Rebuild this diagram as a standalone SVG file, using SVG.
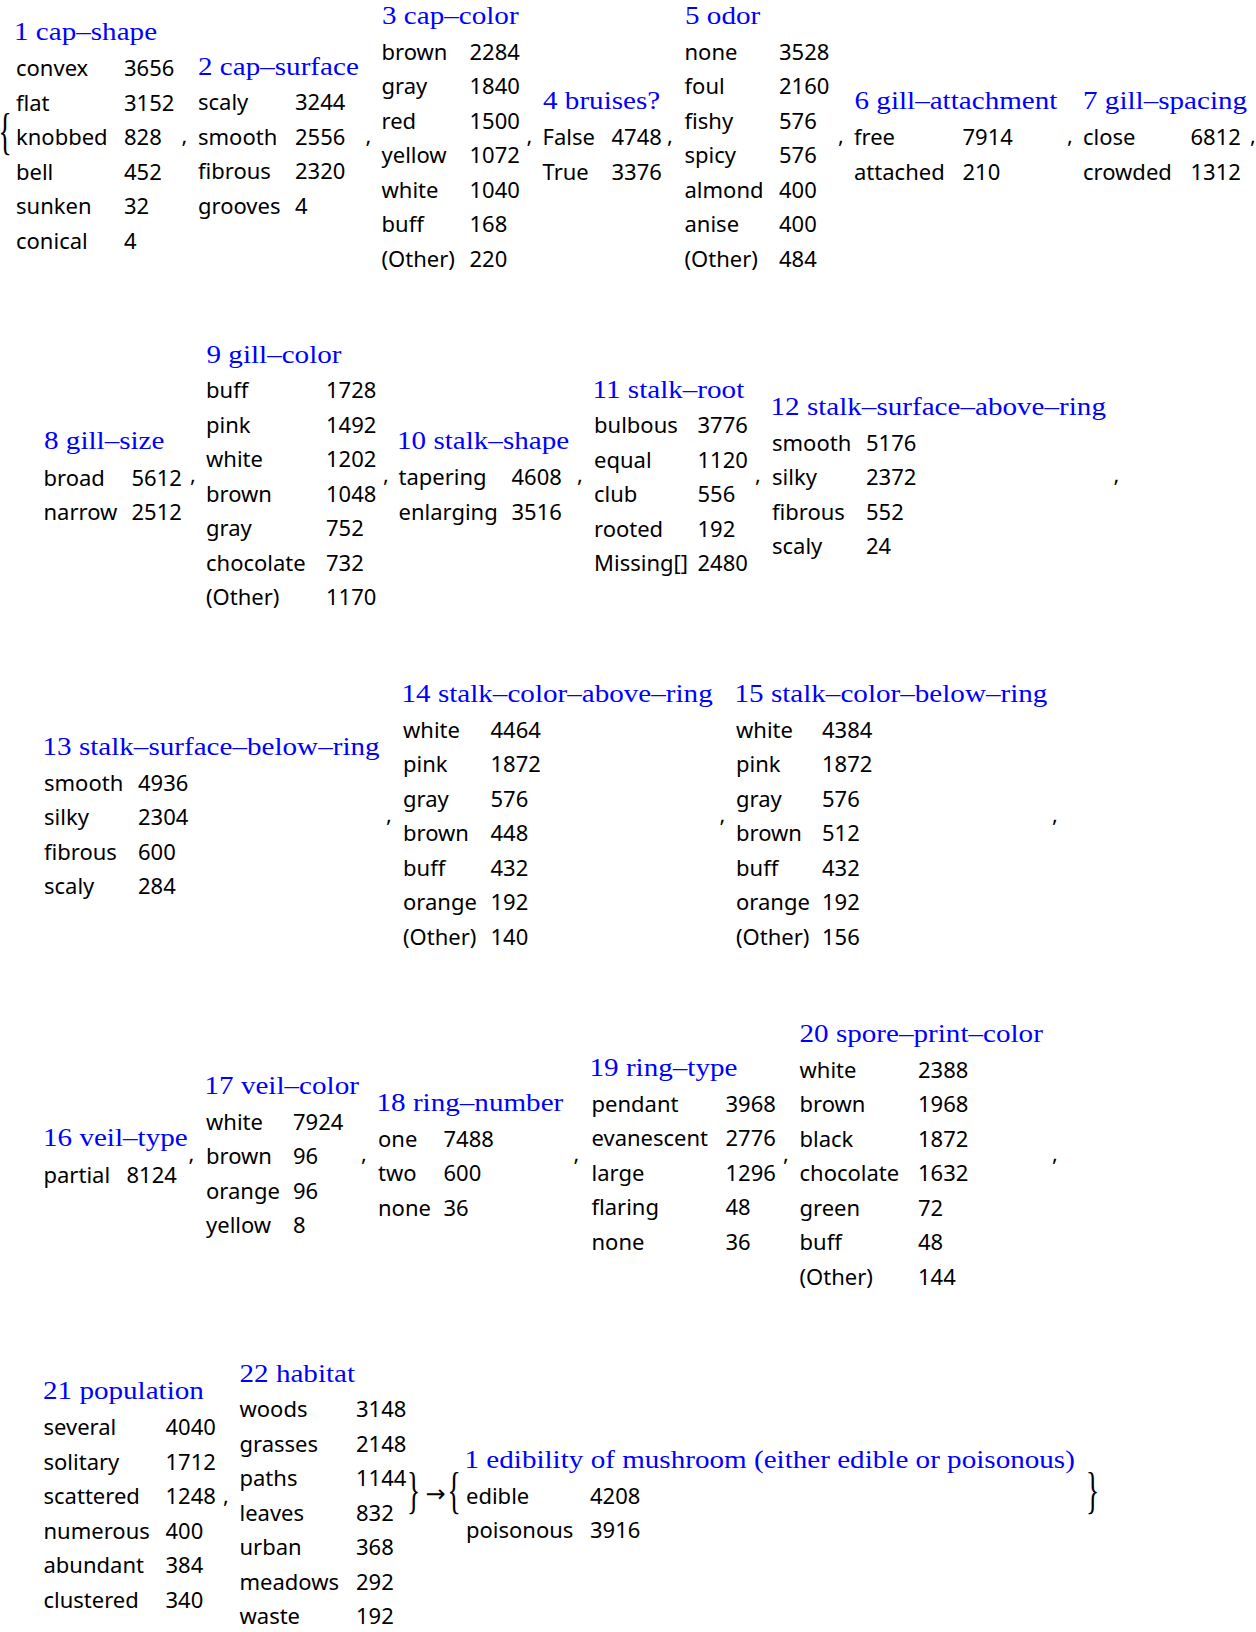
<svg xmlns="http://www.w3.org/2000/svg" width="1256" height="1632" viewBox="0 0 1256 1632">
<style>
.h{font-family:"Liberation Serif","Times New Roman",serif;font-size:26px;fill:#0000ff}
.t{font-family:"Noto Sans","Open Sans",sans-serif;font-size:22px;fill:#000}
.s{font-family:"Noto Sans","Open Sans",sans-serif;font-size:22px;fill:#000}
.br{font-family:"Liberation Serif","Times New Roman",serif;font-size:50px;fill:#000}
.ar{font-family:"DejaVu Sans",sans-serif;font-size:24px;fill:#000}
</style>
<rect width="1256" height="1632" fill="#fff"/>

<g id="n1">
<text class="h" transform="translate(14 40) scale(1.12 1)">1 cap–shape</text>
<text class="t" x="16" y="76">convex</text><text class="t" x="124" y="76">3656</text>
<text class="t" x="16" y="110.5">flat</text><text class="t" x="124" y="110.5">3152</text>
<text class="t" x="16" y="145">knobbed</text><text class="t" x="124" y="145">828</text>
<text class="t" x="16" y="179.5">bell</text><text class="t" x="124" y="179.5">452</text>
<text class="t" x="16" y="214">sunken</text><text class="t" x="124" y="214">32</text>
<text class="t" x="16" y="248.5">conical</text><text class="t" x="124" y="248.5">4</text>
</g>
<g id="n2">
<text class="h" transform="translate(198 74.5) scale(1.12 1)">2 cap–surface</text>
<text class="t" x="198" y="110">scaly</text><text class="t" x="295" y="110">3244</text>
<text class="t" x="198" y="144.5">smooth</text><text class="t" x="295" y="144.5">2556</text>
<text class="t" x="198" y="179">fibrous</text><text class="t" x="295" y="179">2320</text>
<text class="t" x="198" y="213.5">grooves</text><text class="t" x="295" y="213.5">4</text>
</g>
<g id="n3">
<text class="h" transform="translate(382 24) scale(1.12 1)">3 cap–color</text>
<text class="t" x="381.5" y="59.5">brown</text><text class="t" x="469.5" y="59.5">2284</text>
<text class="t" x="381.5" y="94">gray</text><text class="t" x="469.5" y="94">1840</text>
<text class="t" x="381.5" y="128.5">red</text><text class="t" x="469.5" y="128.5">1500</text>
<text class="t" x="381.5" y="163">yellow</text><text class="t" x="469.5" y="163">1072</text>
<text class="t" x="381.5" y="197.5">white</text><text class="t" x="469.5" y="197.5">1040</text>
<text class="t" x="381.5" y="232">buff</text><text class="t" x="469.5" y="232">168</text>
<text class="t" x="381.5" y="266.5">(Other)</text><text class="t" x="469.5" y="266.5">220</text>
</g>
<g id="n4">
<text class="h" transform="translate(543 109) scale(1.12 1)">4 bruises?</text>
<text class="t" x="542.5" y="145">False</text><text class="t" x="611.5" y="145">4748</text>
<text class="t" x="542.5" y="179.5">True</text><text class="t" x="611.5" y="179.5">3376</text>
</g>
<g id="n5">
<text class="h" transform="translate(685 24) scale(1.12 1)">5 odor</text>
<text class="t" x="684.5" y="59.5">none</text><text class="t" x="779" y="59.5">3528</text>
<text class="t" x="684.5" y="94">foul</text><text class="t" x="779" y="94">2160</text>
<text class="t" x="684.5" y="128.5">fishy</text><text class="t" x="779" y="128.5">576</text>
<text class="t" x="684.5" y="163">spicy</text><text class="t" x="779" y="163">576</text>
<text class="t" x="684.5" y="197.5">almond</text><text class="t" x="779" y="197.5">400</text>
<text class="t" x="684.5" y="232">anise</text><text class="t" x="779" y="232">400</text>
<text class="t" x="684.5" y="266.5">(Other)</text><text class="t" x="779" y="266.5">484</text>
</g>
<g id="n6">
<text class="h" transform="translate(854.5 109) scale(1.12 1)">6 gill–attachment</text>
<text class="t" x="854" y="145">free</text><text class="t" x="962.5" y="145">7914</text>
<text class="t" x="854" y="179.5">attached</text><text class="t" x="962.5" y="179.5">210</text>
</g>
<g id="n7">
<text class="h" transform="translate(1083 109) scale(1.12 1)">7 gill–spacing</text>
<text class="t" x="1083" y="145">close</text><text class="t" x="1190.5" y="145">6812</text>
<text class="t" x="1083" y="179.5">crowded</text><text class="t" x="1190.5" y="179.5">1312</text>
</g>

<g id="n8">
<text class="h" transform="translate(44 449) scale(1.12 1)">8 gill–size</text>
<text class="t" x="43.5" y="485.5">broad</text><text class="t" x="131.5" y="485.5">5612</text>
<text class="t" x="43.5" y="520">narrow</text><text class="t" x="131.5" y="520">2512</text>
</g>
<g id="n9">
<text class="h" transform="translate(206.5 362.5) scale(1.12 1)">9 gill–color</text>
<text class="t" x="206" y="398">buff</text><text class="t" x="326" y="398">1728</text>
<text class="t" x="206" y="432.5">pink</text><text class="t" x="326" y="432.5">1492</text>
<text class="t" x="206" y="467">white</text><text class="t" x="326" y="467">1202</text>
<text class="t" x="206" y="501.5">brown</text><text class="t" x="326" y="501.5">1048</text>
<text class="t" x="206" y="536">gray</text><text class="t" x="326" y="536">752</text>
<text class="t" x="206" y="570.5">chocolate</text><text class="t" x="326" y="570.5">732</text>
<text class="t" x="206" y="605">(Other)</text><text class="t" x="326" y="605">1170</text>
</g>
<g id="n10">
<text class="h" transform="translate(397 448.5) scale(1.12 1)">10 stalk–shape</text>
<text class="t" x="398.5" y="485">tapering</text><text class="t" x="511.5" y="485">4608</text>
<text class="t" x="398.5" y="519.5">enlarging</text><text class="t" x="511.5" y="519.5">3516</text>
</g>
<g id="n11">
<text class="h" transform="translate(592.5 397.5) scale(1.12 1)">11 stalk–root</text>
<text class="t" x="594" y="433">bulbous</text><text class="t" x="697.5" y="433">3776</text>
<text class="t" x="594" y="467.5">equal</text><text class="t" x="697.5" y="467.5">1120</text>
<text class="t" x="594" y="502">club</text><text class="t" x="697.5" y="502">556</text>
<text class="t" x="594" y="536.5">rooted</text><text class="t" x="697.5" y="536.5">192</text>
<text class="t" x="594" y="571">Missing[]</text><text class="t" x="697.5" y="571">2480</text>
</g>
<g id="n12">
<text class="h" transform="translate(770.5 414.5) scale(1.12 1)">12 stalk–surface–above–ring</text>
<text class="t" x="772" y="450.5">smooth</text><text class="t" x="866" y="450.5">5176</text>
<text class="t" x="772" y="485">silky</text><text class="t" x="866" y="485">2372</text>
<text class="t" x="772" y="519.5">fibrous</text><text class="t" x="866" y="519.5">552</text>
<text class="t" x="772" y="554">scaly</text><text class="t" x="866" y="554">24</text>
</g>

<g id="n13">
<text class="h" transform="translate(42.5 755) scale(1.12 1)">13 stalk–surface–below–ring</text>
<text class="t" x="44" y="790.5">smooth</text><text class="t" x="138" y="790.5">4936</text>
<text class="t" x="44" y="825">silky</text><text class="t" x="138" y="825">2304</text>
<text class="t" x="44" y="859.5">fibrous</text><text class="t" x="138" y="859.5">600</text>
<text class="t" x="44" y="894">scaly</text><text class="t" x="138" y="894">284</text>
</g>
<g id="n14">
<text class="h" transform="translate(401.5 701.5) scale(1.12 1)">14 stalk–color–above–ring</text>
<text class="t" x="403" y="737.5">white</text><text class="t" x="490.5" y="737.5">4464</text>
<text class="t" x="403" y="772">pink</text><text class="t" x="490.5" y="772">1872</text>
<text class="t" x="403" y="806.5">gray</text><text class="t" x="490.5" y="806.5">576</text>
<text class="t" x="403" y="841">brown</text><text class="t" x="490.5" y="841">448</text>
<text class="t" x="403" y="875.5">buff</text><text class="t" x="490.5" y="875.5">432</text>
<text class="t" x="403" y="910">orange</text><text class="t" x="490.5" y="910">192</text>
<text class="t" x="403" y="944.5">(Other)</text><text class="t" x="490.5" y="944.5">140</text>
</g>
<g id="n15">
<text class="h" transform="translate(734.5 701.5) scale(1.12 1)">15 stalk–color–below–ring</text>
<text class="t" x="736" y="737.5">white</text><text class="t" x="822" y="737.5">4384</text>
<text class="t" x="736" y="772">pink</text><text class="t" x="822" y="772">1872</text>
<text class="t" x="736" y="806.5">gray</text><text class="t" x="822" y="806.5">576</text>
<text class="t" x="736" y="841">brown</text><text class="t" x="822" y="841">512</text>
<text class="t" x="736" y="875.5">buff</text><text class="t" x="822" y="875.5">432</text>
<text class="t" x="736" y="910">orange</text><text class="t" x="822" y="910">192</text>
<text class="t" x="736" y="944.5">(Other)</text><text class="t" x="822" y="944.5">156</text>
</g>

<g id="n16">
<text class="h" transform="translate(43 1146) scale(1.12 1)">16 veil–type</text>
<text class="t" x="43.5" y="1182.5">partial</text><text class="t" x="126.5" y="1182.5">8124</text>
</g>
<g id="n17">
<text class="h" transform="translate(204.5 1093.5) scale(1.12 1)">17 veil–color</text>
<text class="t" x="206" y="1129.5">white</text><text class="t" x="293" y="1129.5">7924</text>
<text class="t" x="206" y="1164">brown</text><text class="t" x="293" y="1164">96</text>
<text class="t" x="206" y="1198.5">orange</text><text class="t" x="293" y="1198.5">96</text>
<text class="t" x="206" y="1233">yellow</text><text class="t" x="293" y="1233">8</text>
</g>
<g id="n18">
<text class="h" transform="translate(376.5 1111) scale(1.12 1)">18 ring–number</text>
<text class="t" x="378" y="1146.5">one</text><text class="t" x="443.5" y="1146.5">7488</text>
<text class="t" x="378" y="1181">two</text><text class="t" x="443.5" y="1181">600</text>
<text class="t" x="378" y="1215.5">none</text><text class="t" x="443.5" y="1215.5">36</text>
</g>
<g id="n19">
<text class="h" transform="translate(589.5 1076) scale(1.12 1)">19 ring–type</text>
<text class="t" x="591.5" y="1111.5">pendant</text><text class="t" x="725.5" y="1111.5">3968</text>
<text class="t" x="591.5" y="1146">evanescent</text><text class="t" x="725.5" y="1146">2776</text>
<text class="t" x="591.5" y="1180.5">large</text><text class="t" x="725.5" y="1180.5">1296</text>
<text class="t" x="591.5" y="1215">flaring</text><text class="t" x="725.5" y="1215">48</text>
<text class="t" x="591.5" y="1249.5">none</text><text class="t" x="725.5" y="1249.5">36</text>
</g>
<g id="n20">
<text class="h" transform="translate(799.5 1041.5) scale(1.12 1)">20 spore–print–color</text>
<text class="t" x="799.5" y="1077.5">white</text><text class="t" x="918" y="1077.5">2388</text>
<text class="t" x="799.5" y="1112">brown</text><text class="t" x="918" y="1112">1968</text>
<text class="t" x="799.5" y="1146.5">black</text><text class="t" x="918" y="1146.5">1872</text>
<text class="t" x="799.5" y="1181">chocolate</text><text class="t" x="918" y="1181">1632</text>
<text class="t" x="799.5" y="1215.5">green</text><text class="t" x="918" y="1215.5">72</text>
<text class="t" x="799.5" y="1250">buff</text><text class="t" x="918" y="1250">48</text>
<text class="t" x="799.5" y="1284.5">(Other)</text><text class="t" x="918" y="1284.5">144</text>
</g>

<g id="n21">
<text class="h" transform="translate(43 1399) scale(1.12 1)">21 population</text>
<text class="t" x="43.5" y="1435">several</text><text class="t" x="165.5" y="1435">4040</text>
<text class="t" x="43.5" y="1469.5">solitary</text><text class="t" x="165.5" y="1469.5">1712</text>
<text class="t" x="43.5" y="1504">scattered</text><text class="t" x="165.5" y="1504">1248</text>
<text class="t" x="43.5" y="1538.5">numerous</text><text class="t" x="165.5" y="1538.5">400</text>
<text class="t" x="43.5" y="1573">abundant</text><text class="t" x="165.5" y="1573">384</text>
<text class="t" x="43.5" y="1607.5">clustered</text><text class="t" x="165.5" y="1607.5">340</text>
</g>
<g id="n22">
<text class="h" transform="translate(239.5 1381.5) scale(1.12 1)">22 habitat</text>
<text class="t" x="239.5" y="1417">woods</text><text class="t" x="356" y="1417">3148</text>
<text class="t" x="239.5" y="1451.5">grasses</text><text class="t" x="356" y="1451.5">2148</text>
<text class="t" x="239.5" y="1486">paths</text><text class="t" x="356" y="1486">1144</text>
<text class="t" x="239.5" y="1520.5">leaves</text><text class="t" x="356" y="1520.5">832</text>
<text class="t" x="239.5" y="1555">urban</text><text class="t" x="356" y="1555">368</text>
<text class="t" x="239.5" y="1589.5">meadows</text><text class="t" x="356" y="1589.5">292</text>
<text class="t" x="239.5" y="1624">waste</text><text class="t" x="356" y="1624">192</text>
</g>
<g id="edibility">
<text class="h" transform="translate(464.5 1468) scale(1.12 1)">1 edibility of mushroom (either edible or poisonous)</text>
<text class="t" x="466" y="1503.5">edible</text><text class="t" x="590" y="1503.5">4208</text>
<text class="t" x="466" y="1538">poisonous</text><text class="t" x="590" y="1538">3916</text>
</g>

<g id="connectors">
<text class="br" transform="translate(-1.5 147.5) scale(0.55 1)">{</text>
<text class="s" x="181.5" y="143">,</text>
<text class="s" x="365.5" y="143">,</text>
<text class="s" x="526.5" y="143">,</text>
<text class="s" x="667" y="143">,</text>
<text class="s" x="838" y="143">,</text>
<text class="s" x="1067" y="143">,</text>
<text class="s" x="1250" y="143">,</text>

<text class="s" x="190" y="482">,</text>
<text class="s" x="383" y="482">,</text>
<text class="s" x="577" y="482">,</text>
<text class="s" x="755" y="482">,</text>
<text class="s" x="1113.5" y="482">,</text>

<text class="s" x="386" y="822">,</text>
<text class="s" x="719.5" y="822">,</text>
<text class="s" x="1052" y="822">,</text>

<text class="s" x="188.5" y="1161">,</text>
<text class="s" x="361" y="1161">,</text>
<text class="s" x="573.5" y="1161">,</text>
<text class="s" x="783" y="1161">,</text>
<text class="s" x="1052" y="1161">,</text>

<text class="s" x="223" y="1503">,</text>
<text class="br" transform="translate(407 1506.5) scale(0.55 1)">}</text>
<text class="ar" x="425.5" y="1502">→</text>
<text class="br" transform="translate(447.5 1506.5) scale(0.55 1)">{</text>
<text class="br" transform="translate(1086 1506.5) scale(0.55 1)">}</text>
</g>
</svg>
